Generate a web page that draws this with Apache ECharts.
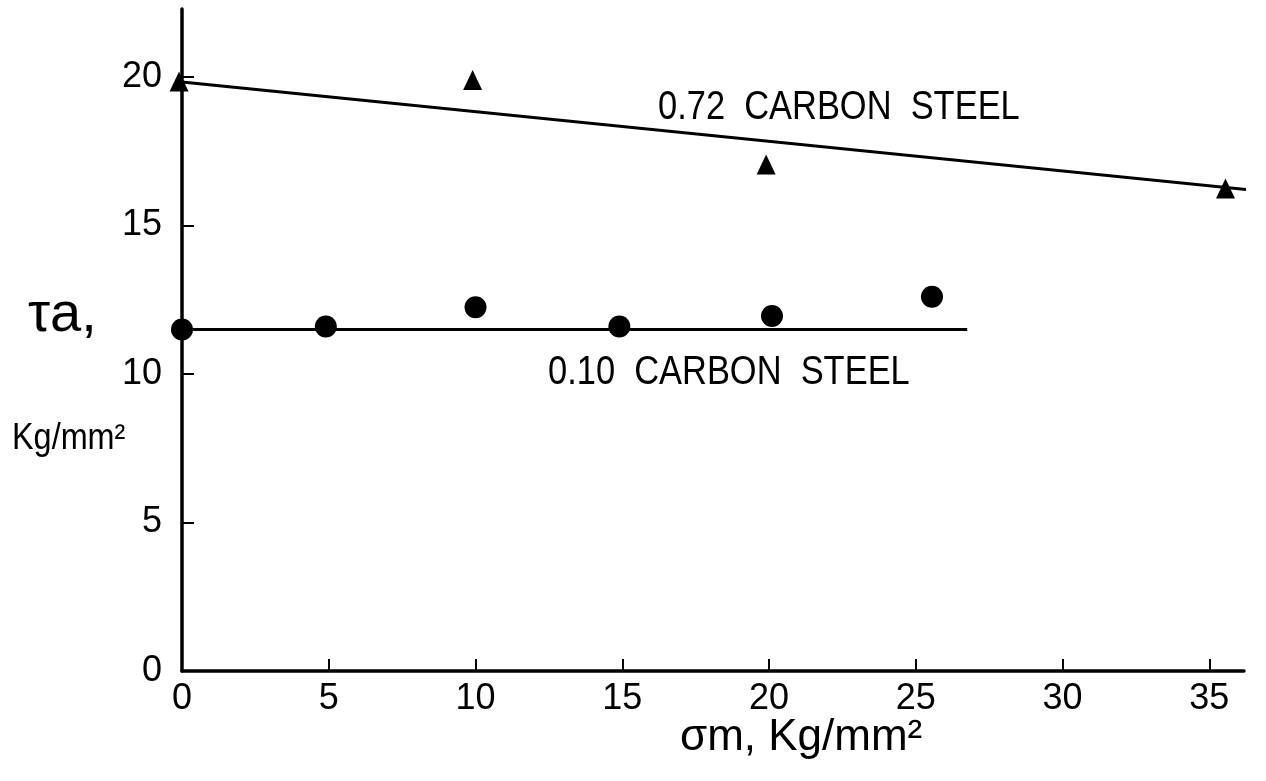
<!DOCTYPE html>
<html>
<head>
<meta charset="utf-8">
<script src="https://cdn.jsdelivr.net/npm/echarts@6/dist/echarts.min.js"></script>
<style>
  html, body { margin: 0; padding: 0; background: #ffffff; }
  #chart { width: 1266px; height: 781px; }
</style>
</head>
<body>
<div id="chart"></div>
<script>
// Mean stress (x) vs. alternating shear stress (y), both in Kg/mm²
const xTickValues = [5, 10, 15, 20, 25, 30, 35];
const xLabelValues = [0, 5, 10, 15, 20, 25, 30, 35];
const yTickValues = [5, 10, 15, 20];
const yLabelValues = [0, 5, 10, 15, 20];

// 0.72 carbon steel: measured points and fitted line
const highCarbonPoints = [[-0.1, 19.85], [9.9, 19.9], [19.9, 17.05], [35.55, 16.25]];
const highCarbonFit = [[0, 19.83], [36.85, 16.15]];

// 0.10 carbon steel: measured points and fitted line
const lowCarbonPoints = [[0, 11.5], [4.9, 11.6], [10.0, 12.25], [14.9, 11.6], [20.1, 11.95], [25.55, 12.6]];
const lowCarbonFit = [[0, 11.5], [26.75, 11.5]];

const FONT = '"Liberation Sans"';
const INK = '#000000';

const chart = echarts.init(document.getElementById('chart'));

chart.setOption({
  backgroundColor: '#ffffff',
  animation: false,
  grid: { left: 182, right: 22, top: 9, bottom: 110, containLabel: false },
  xAxis: {
    type: 'value',
    min: 0,
    max: 36.18,
    splitLine: { show: false },
    axisLine: { show: true, onZero: false, lineStyle: { color: INK, width: 3.5 } },
    axisTick: { show: true, inside: true, length: 12, customValues: xTickValues, lineStyle: { color: INK, width: 2 } },
    axisLabel: { customValues: xLabelValues, color: INK, fontFamily: FONT, fontSize: 36, margin: 10 }
  },
  yAxis: {
    type: 'value',
    min: 0,
    max: 22.29,
    splitLine: { show: false },
    axisLine: { show: true, onZero: false, lineStyle: { color: INK, width: 3.5 } },
    axisTick: { show: true, inside: true, length: 12, customValues: yTickValues, lineStyle: { color: INK, width: 2 } },
    axisLabel: { customValues: yLabelValues, color: INK, fontFamily: FONT, fontSize: 36, margin: 20 }
  },
  series: [
    {
      name: '0.72 fit',
      type: 'line',
      data: highCarbonFit,
      clip: false,
      symbol: 'none',
      lineStyle: { color: INK, width: 3 }
    },
    {
      name: '0.10 fit',
      type: 'line',
      data: lowCarbonFit,
      clip: false,
      symbol: 'none',
      lineStyle: { color: INK, width: 3 }
    },
    {
      name: '0.72 CARBON STEEL',
      type: 'scatter',
      data: highCarbonPoints,
      clip: false,
      symbol: 'triangle',
      symbolSize: [19, 20],
      itemStyle: { color: INK, opacity: 1 }
    },
    {
      name: '0.10 CARBON STEEL',
      type: 'scatter',
      data: lowCarbonPoints,
      clip: false,
      symbol: 'circle',
      symbolSize: 22,
      itemStyle: { color: INK, opacity: 1 }
    }
  ],
  graphic: [
    {
      type: 'text', x: 658, y: 87, scaleX: 0.84,
      style: { text: '0.72  CARBON  STEEL', fill: INK, font: '41px "Liberation Sans"' }
    },
    {
      type: 'text', x: 548, y: 352, scaleX: 0.84,
      style: { text: '0.10  CARBON  STEEL', fill: INK, font: '41px "Liberation Sans"' }
    },
    {
      type: 'text', x: 28, y: 288,
      style: { text: 'τa,', fill: INK, font: '56px "Liberation Sans"' }
    },
    {
      type: 'text', x: 12, y: 421, scaleX: 0.9,
      style: { text: 'Kg/mm²', fill: INK, font: '36px "Liberation Sans"' }
    },
    {
      type: 'text', x: 680, y: 716,
      style: { text: 'σm, Kg/mm²', fill: INK, font: '44px "Liberation Sans"' }
    }
  ]
});
</script>
</body>
</html>
